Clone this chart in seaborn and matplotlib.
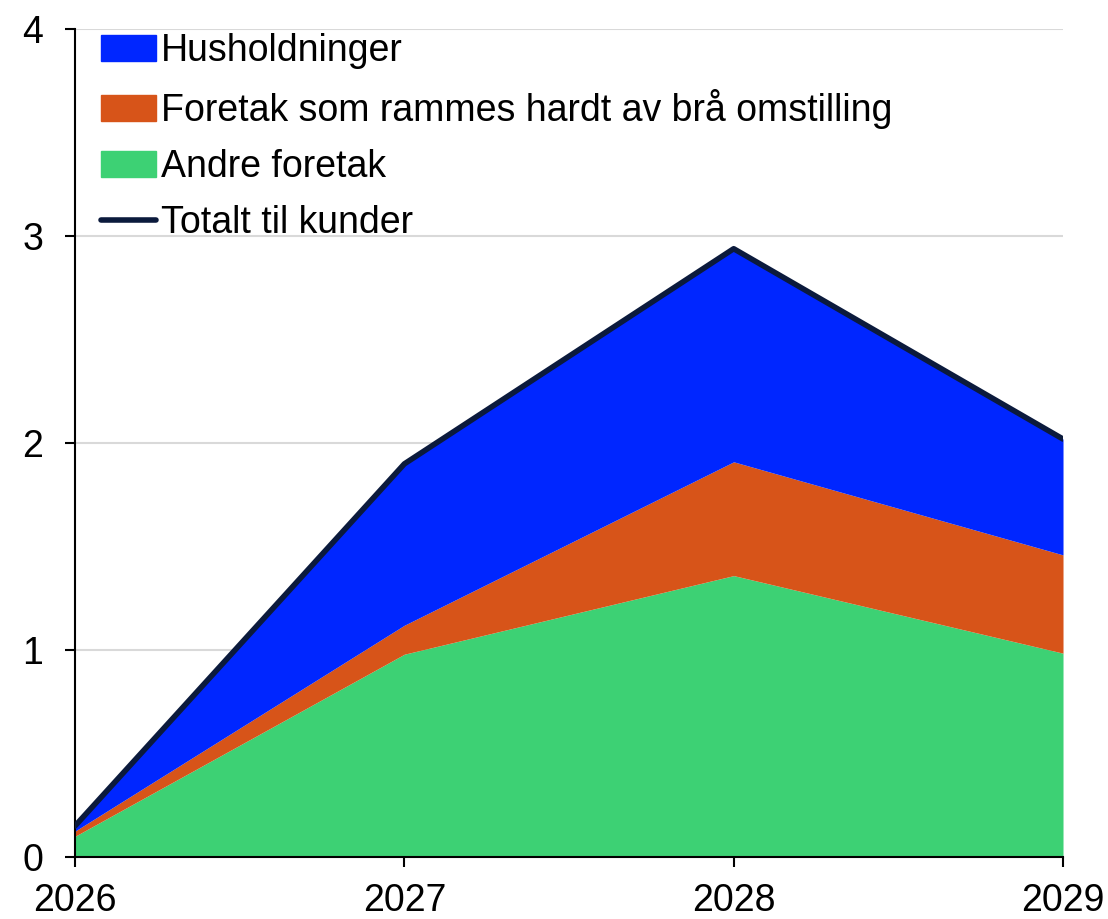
import numpy as np
import pandas as pd
import seaborn as sns
import matplotlib.pyplot as plt
from matplotlib.patches import Patch
from matplotlib.lines import Line2D

# Data
years = [2026, 2027, 2028, 2029]
andre_foretak = [0.10, 0.98, 1.36, 0.985]
foretak_omstilling = [0.025, 0.14, 0.55, 0.475]
husholdninger = [0.025, 0.78, 1.03, 0.56]
totalt = [0.15, 1.90, 2.94, 2.02]

labels = ["Husholdninger", "Foretak som rammes hardt av brå omstilling",
          "Andre foretak", "Totalt til kunder"]
colors = {"green": "#3dd174", "orange": "#d75419", "blue": "#0026ff", "navy": "#0b1a3c"}

df = pd.DataFrame({"År": years, "Totalt": totalt})

sns.set_style("white")
plt.rcParams["font.family"] = ["Liberation Sans", "DejaVu Sans"]
plt.rcParams["font.size"] = 27
plt.rcParams["text.color"] = "black"

fig = plt.figure(figsize=(11.08, 9.19), dpi=100)
ax = fig.add_axes([0.0677, 0.0675, 0.8917, 0.9005])

ax.stackplot(years, andre_foretak, foretak_omstilling, husholdninger,
             colors=[colors["green"], colors["orange"], colors["blue"]], lw=0, zorder=2)
sns.lineplot(data=df, x="År", y="Totalt", color=colors["navy"], lw=4, ax=ax, zorder=3)

ax.set_xlim(2026, 2029)
ax.set_ylim(0, 4)
ax.set_xticks(years)
ax.set_yticks([0, 1, 2, 3, 4])
ax.set_xlabel("")
ax.set_ylabel("")
ax.yaxis.grid(True, color="#d9d9d9", lw=1.5, zorder=0)
ax.set_axisbelow(True)

for s in ["top", "right"]:
    ax.spines[s].set_visible(False)
for s in ["left", "bottom"]:
    ax.spines[s].set_color("black")
    ax.spines[s].set_linewidth(1.5)

ax.tick_params(axis="both", direction="out", length=7, width=1.5, colors="black",
               labelsize=27, bottom=True, left=True, labelcolor="black")
ax.tick_params(axis="y", pad=16)
ax.tick_params(axis="x", pad=12)

handles = [Patch(color=colors["blue"]), Patch(color=colors["orange"]),
           Patch(color=colors["green"]),
           Line2D([0], [0], color=colors["navy"], lw=4)]
ax.legend(handles, labels, loc="upper left", bbox_to_anchor=(0.0, 1.027), frameon=False,
          fontsize=27, handlelength=1.45, handletextpad=0.15, labelspacing=0.53,
          borderaxespad=0.3, labelcolor="black")

fig.savefig("out.png", dpi=100)
